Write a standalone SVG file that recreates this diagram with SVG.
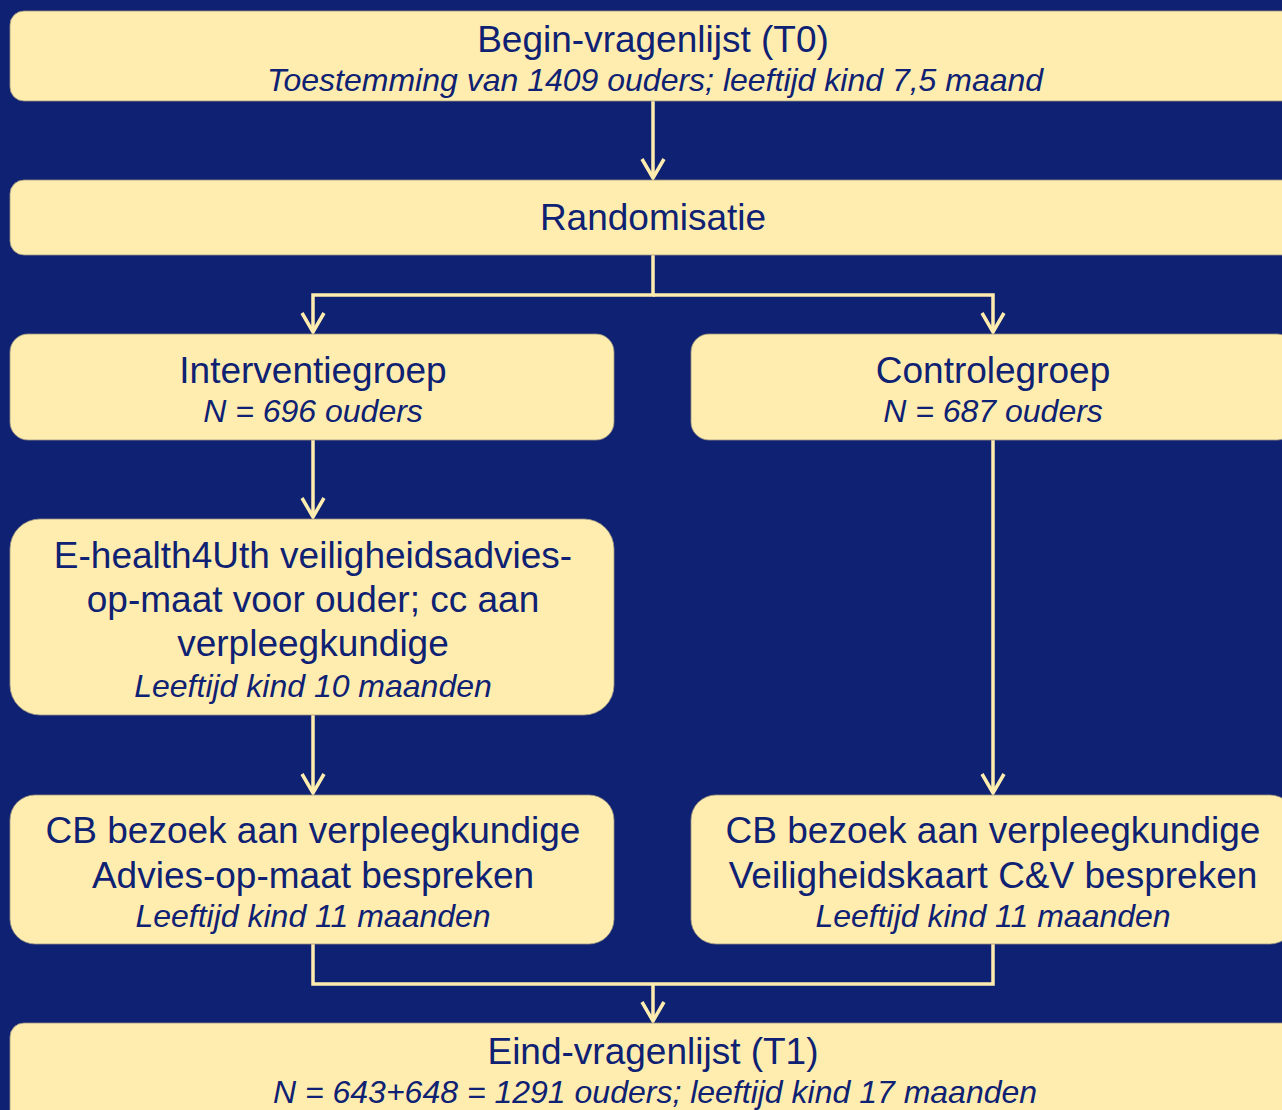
<svg xmlns="http://www.w3.org/2000/svg" width="1282" height="1110" viewBox="0 0 1282 1110">
<style>
.box{fill:#FFEDB0;stroke:#9C9680;stroke-width:0.8}
.t{font-family:"Liberation Sans",Arial,sans-serif;font-size:37px;fill:#0E2172;text-anchor:middle}
.i{font-family:"Liberation Sans",Arial,sans-serif;font-size:32px;font-style:italic;fill:#0E2172;text-anchor:middle}
.c{fill:none;stroke:#FFEDB0;stroke-width:3.5}
</style>
<defs>
<marker id="ah" markerUnits="userSpaceOnUse" markerWidth="30" markerHeight="30" refX="20" refY="15" orient="auto" viewBox="0 0 30 30">
<path d="M1,4 L20,15 L1,26" fill="none" stroke="#FFEDB0" stroke-width="3.5"/>
</marker>
</defs>
<rect width="1282" height="1110" fill="#0E2172"/>
<g id="connectors">
<path class="c" d="M653,101 V178" marker-end="url(#ah)"/>
<path class="c" d="M653,255 V295 H313 V332" marker-end="url(#ah)"/>
<path class="c" d="M653,295 H993 V332" marker-end="url(#ah)"/>
<path class="c" d="M313,440 V517" marker-end="url(#ah)"/>
<path class="c" d="M313,715 V793" marker-end="url(#ah)"/>
<path class="c" d="M993,440 V793" marker-end="url(#ah)"/>
<path class="c" d="M313,944 V984 H993 V944"/>
<path class="c" d="M653,984 V1021" marker-end="url(#ah)"/>
</g>
<g id="begin">
<rect class="box" x="10" y="11" width="1286" height="90" rx="14"/>
<text class="t" x="653" y="52">Begin-vragenlijst (T0)</text>
<text class="i" x="655" y="91">Toestemming van 1409 ouders; leeftijd kind 7,5 maand</text>
</g>
<g id="randomisatie">
<rect class="box" x="10" y="180" width="1286" height="75" rx="14"/>
<text class="t" x="653" y="230">Randomisatie</text>
</g>
<g id="interventiegroep">
<rect class="box" x="10" y="334" width="604" height="106" rx="18"/>
<text class="t" x="313" y="383">Interventiegroep</text>
<text class="i" x="313" y="422">N = 696 ouders</text>
</g>
<g id="controlegroep">
<rect class="box" x="691" y="334" width="604" height="106" rx="18"/>
<text class="t" x="993" y="383">Controlegroep</text>
<text class="i" x="993" y="422">N = 687 ouders</text>
</g>
<g id="ehealth">
<rect class="box" x="10" y="519" width="604" height="196" rx="30"/>
<text class="t" x="313" y="568">E-health4Uth veiligheidsadvies-</text>
<text class="t" x="313" y="612">op-maat voor ouder; cc aan</text>
<text class="t" x="313" y="656">verpleegkundige</text>
<text class="i" x="313" y="697">Leeftijd kind 10 maanden</text>
</g>
<g id="cb-interventie">
<rect class="box" x="10" y="795" width="604" height="149" rx="25"/>
<text class="t" x="313" y="843">CB bezoek aan verpleegkundige</text>
<text class="t" x="313" y="888">Advies-op-maat bespreken</text>
<text class="i" x="313" y="927">Leeftijd kind 11 maanden</text>
</g>
<g id="cb-controle">
<rect class="box" x="691" y="795" width="604" height="149" rx="25"/>
<text class="t" x="993" y="843">CB bezoek aan verpleegkundige</text>
<text class="t" x="993" y="888">Veiligheidskaart C&amp;V bespreken</text>
<text class="i" x="993" y="927">Leeftijd kind 11 maanden</text>
</g>
<g id="eind">
<rect class="box" x="10" y="1023" width="1286" height="110" rx="14"/>
<text class="t" x="653" y="1064">Eind-vragenlijst (T1)</text>
<text class="i" x="655" y="1103">N = 643+648 = 1291 ouders; leeftijd kind 17 maanden</text>
</g>
</svg>
